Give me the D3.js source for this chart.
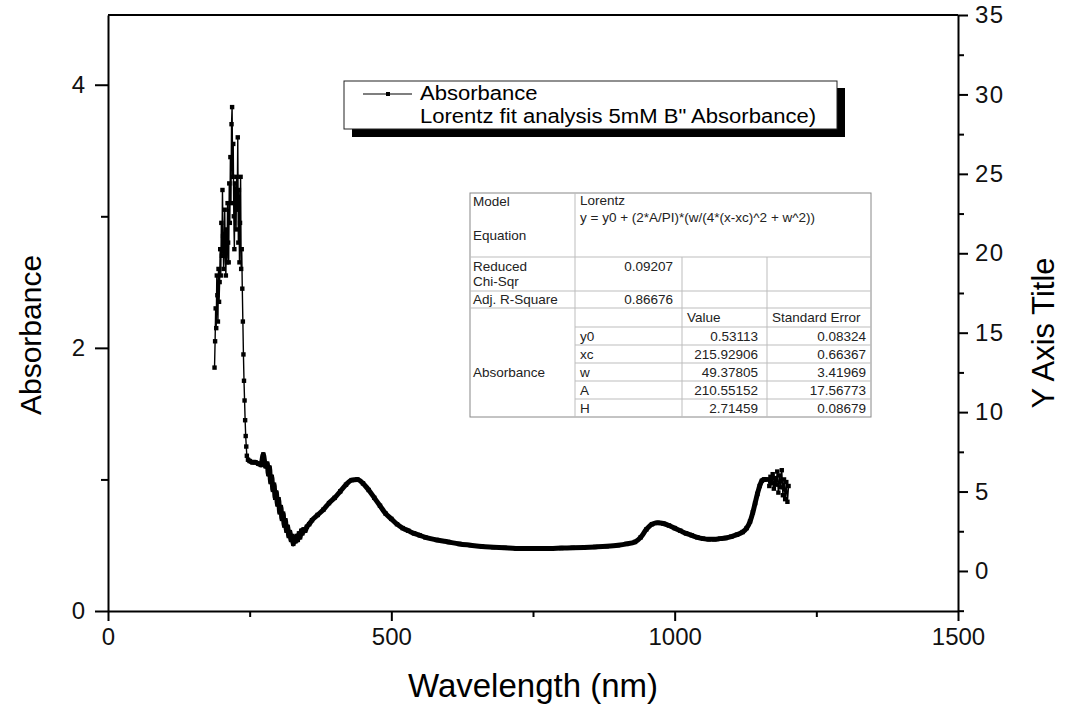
<!DOCTYPE html>
<html>
<head>
<meta charset="utf-8">
<script src="https://cdn.jsdelivr.net/npm/d3@7"></script>
<style>
  body { margin: 0; background: #fff; }
  svg { font-family: "Liberation Sans", Arial, sans-serif; }
</style>
</head>
<body>
<svg id="chart" width="1080" height="711"></svg>
<script>
//* UV-Vis absorbance with Lorentz fit *//

// wavelength (nm) and absorbance
const WAVELENGTH = [
  188,189,190,191,192,193,194,195,196,197,198,199,200,201,202,203,204,205,206,207,
  208,209,210,211,212,213,214,215,216,217,218,219,220,221,222,223,224,225,226,227,
  228,229,230,231,232,233,234,235,236,237,238,239,240,241,242,243,244,245,
  247,250,255,260,265,270,274,278,
  281,283,285,287,289,291,293,295,297,299,301,303,305,307,309,311,313,315,317,319,
  321,323,325,327,329,331,333,335,337,339,341,343,345,348,351,355,
  360,370,380,390,400,410,420,430,440,450,460,470,480,490,500,510,520,530,540,550,
  560,580,600,620,640,660,680,700,720,740,760,780,800,820,840,860,880,900,915,930,
  940,950,960,970,980,990,1000,1010,1020,1030,1040,1050,1060,1070,1080,1090,1100,1110,1120,1127,
  1133,1138,1142,1146,1150,1154,1158,1162,
  1165,1167,1169,1171,1173,1175,1177,1179,1181,1183,1185,1187,1189,1191,1193,1195,1197,1199,1201
];
const ABSORBANCE = [
  1.85,2.05,2.30,2.15,2.55,2.40,2.20,2.60,2.35,2.50,2.75,2.55,2.95,2.70,3.20,2.85,2.60,2.75,3.05,2.70,
  2.55,2.90,2.65,3.10,2.80,2.65,3.25,2.95,3.45,3.10,3.70,3.83,3.30,3.55,3.00,2.75,3.25,3.15,2.90,3.30,
  3.05,3.60,2.80,3.20,2.65,2.95,3.30,2.60,2.75,2.45,2.20,1.95,1.75,1.60,1.45,1.33,1.25,1.18,
  1.15,1.14,1.13,1.13,1.12,1.11,1.19,1.10,
  1.12,1.04,1.09,0.98,1.02,0.92,0.96,0.86,0.90,0.81,0.85,0.75,0.79,0.70,0.74,0.65,0.69,0.61,0.64,0.57,
  0.60,0.54,0.57,0.51,0.55,0.53,0.57,0.54,0.59,0.56,0.61,0.59,0.62,0.61,0.64,0.66,
  0.69,0.73,0.77,0.82,0.86,0.91,0.96,0.995,1.00,0.97,0.92,0.86,0.80,0.74,0.70,0.66,0.63,0.61,0.59,0.575,
  0.56,0.54,0.525,0.51,0.50,0.49,0.485,0.48,0.475,0.475,0.475,0.475,0.478,0.48,0.483,0.487,0.492,0.50,0.51,0.525,
  0.56,0.62,0.66,0.67,0.665,0.65,0.63,0.61,0.59,0.575,0.56,0.55,0.545,0.545,0.55,0.555,0.565,0.58,0.60,0.63,
  0.68,0.75,0.82,0.89,0.95,0.99,1.00,1.00,
  1.00,0.95,1.02,0.97,1.04,0.93,1.01,0.96,1.06,0.90,1.03,0.94,1.07,0.88,1.00,0.85,0.98,0.83,0.95
];

const X_TICKS = [0, 500, 1000, 1500];
const X_MINOR = [250, 750, 1250];
const LEFT_TICKS = [0, 2, 4];
const LEFT_MINOR = [1, 3];
const RIGHT_TICKS = [0, 5, 10, 15, 20, 25, 30, 35];
const RIGHT_MINOR = [-2.5, 2.5, 7.5, 12.5, 17.5, 22.5, 27.5, 32.5];

const LEGEND_LABELS = ["Absorbance", "Lorentz fit analysis 5mM B\" Absorbance)"];

const PARAM_NAMES = ["y0", "xc", "w", "A", "H"];
const PARAM_VALUES = ["0.53113", "215.92906", "49.37805", "210.55152", "2.71459"];
const PARAM_ERRORS = ["0.08324", "0.66367", "3.41969", "17.56773", "0.08679"];

const svg = d3.select('#chart');
const M = { left: 108, right: 958, top: 15, bottom: 611 };

//Scales
const x = d3.scaleLinear().domain([0, 1500]).range([M.left, M.right]);
const yL = d3.scaleLinear().domain([0, 4.53]).range([M.bottom, M.top]);
const yR = d3.scaleLinear().domain([-2.52, 35]).range([M.bottom, M.top]);

const points = WAVELENGTH.map((w, i) => ({ w: w, a: ABSORBANCE[i] }));
const fmt = d3.format('d');

//Frame
svg.append('line')
  .attr('x1', M.left).attr('x2', M.right).attr('y1', M.top).attr('y2', M.top)
  .attr('stroke', '#000').attr('stroke-width', 2);

function styleAxis(g) {
  g.selectAll('path').attr('stroke-width', 2);
  g.selectAll('line').attr('stroke-width', 2);
  g.selectAll('text').attr('font-size', 24).attr('fill', '#111');
}

// x axis
svg.append('g')
  .attr('transform', `translate(0,${M.bottom})`)
  .call(d3.axisBottom(x).tickValues(X_TICKS).tickFormat(fmt).tickSize(10).tickSizeOuter(0).tickPadding(7))
  .call(styleAxis);
svg.append('g')
  .attr('transform', `translate(0,${M.bottom})`)
  .call(d3.axisBottom(x).tickValues(X_MINOR).tickSize(6).tickFormat(''))
  .call(g => g.select('path').remove())
  .call(styleAxis);

// left axis
svg.append('g')
  .attr('transform', `translate(${M.left},0)`)
  .call(d3.axisLeft(yL).tickValues(LEFT_TICKS).tickFormat(fmt).tickSize(13).tickSizeOuter(0).tickPadding(10))
  .call(styleAxis);
svg.append('g')
  .attr('transform', `translate(${M.left},0)`)
  .call(d3.axisLeft(yL).tickValues(LEFT_MINOR).tickSize(7).tickFormat(''))
  .call(g => g.select('path').remove())
  .call(styleAxis);

// right axis
svg.append('g')
  .attr('transform', `translate(${M.right},0)`)
  .call(d3.axisRight(yR).tickValues(RIGHT_TICKS).tickFormat(fmt).tickSize(10).tickSizeOuter(0).tickPadding(7))
  .call(styleAxis)
  .call(g => g.selectAll('text').attr('letter-spacing', 1.5));
svg.append('g')
  .attr('transform', `translate(${M.right},0)`)
  .call(d3.axisRight(yR).tickValues(RIGHT_MINOR).tickSize(6).tickFormat(''))
  .call(g => g.select('path').remove())
  .call(styleAxis);

//Axis titles
svg.append('text')
  .attr('transform', `translate(41,${(M.top + M.bottom) / 2 + 22}) rotate(-90)`)
  .attr('text-anchor', 'middle')
  .attr('font-size', 30)
  .text('Absorbance');

svg.append('text')
  .attr('x', (M.left + M.right) / 2)
  .attr('y', 697)
  .attr('text-anchor', 'middle')
  .attr('font-size', 33)
  .text('Wavelength (nm)');

svg.append('text')
  .attr('transform', `translate(1054,${(M.top + M.bottom) / 2 + 20}) rotate(-90)`)
  .attr('text-anchor', 'middle')
  .attr('font-size', 31)
  .text('Y Axis Title');

//Spectrum
svg.append('path')
  .datum(points)
  .attr('d', d3.line().x(d => x(d.w)).y(d => yL(d.a)))
  .attr('fill', 'none').attr('stroke', '#000').attr('stroke-width', 1.4);

svg.append('path')
  .datum(points.filter(d => d.w >= 246 && d.w <= 1164))
  .attr('d', d3.line().x(d => x(d.w)).y(d => yL(d.a)).curve(d3.curveMonotoneX))
  .attr('fill', 'none').attr('stroke', '#000').attr('stroke-width', 5)
  .attr('stroke-linejoin', 'round');

svg.selectAll('.pt')
  .data(points)
  .enter()
  .append('rect')
  .classed('pt', true)
  .attr('x', d => x(d.w) - 2.2)
  .attr('y', d => yL(d.a) - 2.2)
  .attr('width', 4.4)
  .attr('height', 4.4)
  .attr('fill', '#000');

//Legend
const lg = svg.append('g');
lg.append('rect').attr('x', 352).attr('y', 88).attr('width', 493).attr('height', 49).attr('fill', '#000');
lg.append('rect').attr('x', 344).attr('y', 81).attr('width', 493).attr('height', 48)
  .attr('fill', '#fff').attr('stroke', '#222').attr('stroke-width', 1);
lg.append('line').attr('x1', 363).attr('x2', 412).attr('y1', 94).attr('y2', 94)
  .attr('stroke', '#000').attr('stroke-width', 1.2);
lg.append('rect').attr('x', 386).attr('y', 92).attr('width', 4).attr('height', 4).attr('fill', '#000');
lg.selectAll('.lg-label')
  .data(LEGEND_LABELS)
  .enter()
  .append('text')
  .classed('lg-label', true)
  .attr('x', 420)
  .attr('y', (d, i) => 100 + i * 23)
  .attr('font-size', 19.5)
  .text(d => d)
  .each(function () {
    // the original export is slightly stretched horizontally
    const len = this.getComputedTextLength();
    d3.select(this).attr('textLength', len * 1.13).attr('lengthAdjust', 'spacingAndGlyphs');
  });

//Fit table
const tb = svg.append('g').attr('font-size', 13.5).attr('fill', '#222');
const T = { l: 470, r: 871, t: 193, b: 417, c1: 575, c2: 682, c3: 767 };
tb.append('rect').attr('x', T.l).attr('y', T.t).attr('width', T.r - T.l).attr('height', T.b - T.t)
  .attr('fill', '#fff').attr('stroke', '#888').attr('stroke-width', 1);
const grid = '#bdbdbd';
function hl(x1, x2, y) {
  tb.append('line').attr('x1', x1).attr('x2', x2).attr('y1', y).attr('y2', y).attr('stroke', grid);
}
function vl(xx, y1, y2) {
  tb.append('line').attr('x1', xx).attr('x2', xx).attr('y1', y1).attr('y2', y2).attr('stroke', grid);
}
hl(T.l, T.r, 257); hl(T.l, T.r, 291); hl(T.l, T.r, 308);
vl(T.c1, T.t, T.b); vl(T.c2, 257, T.b); vl(T.c3, 257, T.b);
const subRowTop = 327, subRowH = 18;
PARAM_NAMES.forEach((n, i) => hl(T.c1, T.r, subRowTop + i * subRowH));

function txt(x0, y0, s, anchor) {
  tb.append('text').attr('x', x0).attr('y', y0).attr('text-anchor', anchor || 'start').text(s);
}
txt(473, 206, 'Model');
txt(580, 205, 'Lorentz');
txt(580, 222, 'y = y0 + (2*A/PI)*(w/(4*(x-xc)^2 + w^2))');
txt(473, 240, 'Equation');
txt(473, 271, 'Reduced');
txt(473, 286, 'Chi-Sqr');
txt(673, 271, '0.09207', 'end');
txt(473, 304, 'Adj. R-Square');
txt(673, 304, '0.86676', 'end');
txt(687, 322, 'Value');
txt(772, 322, 'Standard Error');
txt(473, 377, 'Absorbance');
PARAM_NAMES.forEach((n, i) => {
  const yy = subRowTop + i * subRowH + 14;
  txt(580, yy, n);
  txt(758, yy, PARAM_VALUES[i], 'end');
  txt(866, yy, PARAM_ERRORS[i], 'end');
});
</script>
</body>
</html>
